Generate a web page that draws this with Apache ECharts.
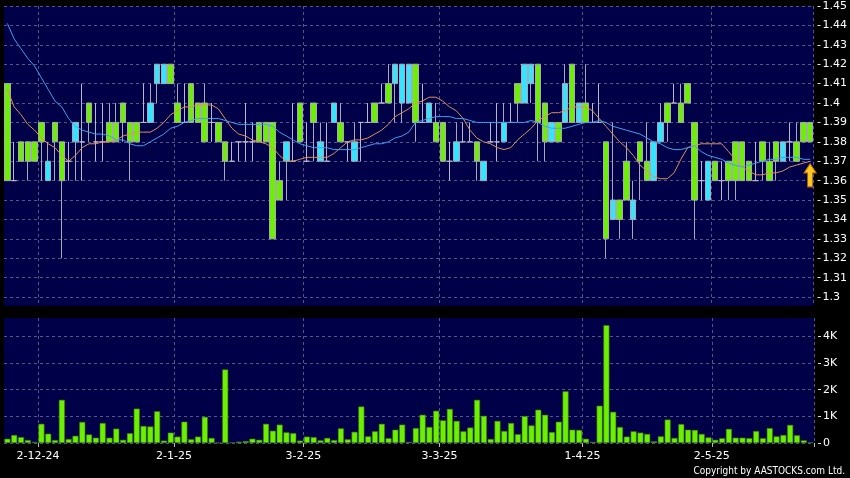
<!DOCTYPE html>
<html><head><meta charset="utf-8">
<script src="https://cdn.jsdelivr.net/npm/echarts@6.0.0/dist/echarts.min.js"></script>
<style>html,body{margin:0;padding:0;background:#000;}#c{width:850px;height:478px;}</style>
</head><body><div id="c"></div>
<script>
const dates = [
'25-11-24','26-11-24','27-11-24','28-11-24','29-11-24',
'2-12-24','3-12-24','4-12-24','5-12-24','6-12-24','9-12-24','10-12-24','11-12-24','12-12-24','13-12-24','16-12-24','17-12-24','18-12-24','19-12-24','20-12-24','23-12-24','24-12-24','27-12-24','30-12-24','31-12-24',
'2-1-25','3-1-25','6-1-25','7-1-25','8-1-25','9-1-25','10-1-25','13-1-25','14-1-25','15-1-25','16-1-25','17-1-25','20-1-25','21-1-25','22-1-25','23-1-25','24-1-25','27-1-25','28-1-25',
'3-2-25','4-2-25','5-2-25','6-2-25','7-2-25','10-2-25','11-2-25','12-2-25','13-2-25','14-2-25','17-2-25','18-2-25','19-2-25','20-2-25','21-2-25','24-2-25','25-2-25','26-2-25','27-2-25','28-2-25',
'3-3-25','4-3-25','5-3-25','6-3-25','7-3-25','10-3-25','11-3-25','12-3-25','13-3-25','14-3-25','17-3-25','18-3-25','19-3-25','20-3-25','21-3-25','24-3-25','25-3-25','26-3-25','27-3-25','28-3-25','31-3-25',
'1-4-25','2-4-25','3-4-25','7-4-25','8-4-25','9-4-25','10-4-25','11-4-25','14-4-25','15-4-25','16-4-25','17-4-25','22-4-25','23-4-25','24-4-25','25-4-25','28-4-25','29-4-25','30-4-25',
'2-5-25','6-5-25','7-5-25','8-5-25','9-5-25','12-5-25','13-5-25','14-5-25','15-5-25','16-5-25','19-5-25','20-5-25','21-5-25','22-5-25','23-5-25'
];
const opens = [
1.41,1.36,1.38,1.38,1.38,1.39,1.36,1.39,1.38,1.37,
1.38,1.38,1.40,1.38,1.38,1.39,1.39,1.40,1.39,1.39,
1.39,1.39,1.41,1.41,1.42,1.40,1.39,1.41,1.40,1.40,
1.39,1.39,1.38,1.37,1.38,1.38,1.38,1.39,1.39,1.39,
1.36,1.37,1.37,1.40,1.37,1.40,1.37,1.37,1.39,1.39,
1.38,1.37,1.39,1.39,1.40,1.40,1.41,1.41,1.40,1.40,
1.42,1.39,1.39,1.39,1.39,1.37,1.37,1.38,1.38,1.38,
1.36,1.38,1.38,1.38,1.39,1.41,1.40,1.41,1.42,1.40,
1.38,1.39,1.39,1.42,1.39,1.40,1.39,1.39,1.38,1.34,
1.35,1.37,1.34,1.38,1.37,1.36,1.38,1.40,1.40,1.40,
1.41,1.39,1.36,1.35,1.37,1.36,1.37,1.38,1.38,1.37,
1.36,1.38,1.37,1.38,1.37,1.38,1.38,1.39,1.39];
const closes = [
1.36,1.36,1.37,1.37,1.37,1.38,1.37,1.38,1.36,1.37,
1.39,1.38,1.39,1.38,1.38,1.38,1.38,1.39,1.38,1.38,
1.39,1.40,1.42,1.42,1.41,1.39,1.39,1.39,1.39,1.38,
1.39,1.38,1.37,1.37,1.38,1.38,1.38,1.38,1.38,1.33,
1.35,1.38,1.37,1.38,1.37,1.39,1.38,1.37,1.40,1.38,
1.38,1.38,1.39,1.39,1.39,1.40,1.40,1.42,1.42,1.42,
1.39,1.39,1.40,1.38,1.37,1.37,1.38,1.38,1.38,1.37,
1.37,1.38,1.38,1.39,1.39,1.40,1.42,1.42,1.39,1.38,
1.39,1.38,1.41,1.39,1.40,1.39,1.39,1.39,1.33,1.35,
1.34,1.35,1.35,1.37,1.36,1.38,1.39,1.39,1.40,1.39,
1.40,1.35,1.36,1.37,1.36,1.36,1.36,1.36,1.36,1.36,
1.36,1.37,1.36,1.37,1.38,1.38,1.37,1.38,1.38];
const lows = [
1.36,1.36,1.37,1.36,1.37,1.36,1.36,1.36,1.32,1.36,
1.36,1.36,1.38,1.37,1.37,1.38,1.38,1.38,1.36,1.38,
1.39,1.39,1.40,1.41,1.41,1.39,1.39,1.39,1.39,1.38,
1.38,1.38,1.36,1.37,1.37,1.37,1.37,1.38,1.38,1.33,
1.35,1.35,1.37,1.38,1.37,1.37,1.37,1.37,1.39,1.38,
1.37,1.37,1.37,1.39,1.39,1.40,1.40,1.39,1.39,1.40,
1.38,1.39,1.39,1.38,1.37,1.36,1.37,1.38,1.38,1.36,
1.36,1.38,1.37,1.38,1.39,1.39,1.40,1.40,1.37,1.37,
1.38,1.38,1.39,1.39,1.39,1.39,1.39,1.39,1.32,1.34,
1.33,1.35,1.33,1.35,1.36,1.36,1.38,1.38,1.40,1.39,
1.40,1.33,1.35,1.35,1.36,1.35,1.35,1.35,1.36,1.36,
1.36,1.36,1.36,1.36,1.37,1.37,1.37,1.38,1.38];
const highs = [
1.41,1.38,1.38,1.38,1.38,1.39,1.38,1.39,1.38,1.38,
1.39,1.41,1.40,1.40,1.40,1.40,1.40,1.40,1.39,1.39,
1.41,1.41,1.42,1.42,1.42,1.41,1.41,1.41,1.40,1.41,
1.40,1.39,1.38,1.38,1.38,1.40,1.39,1.39,1.39,1.39,
1.37,1.38,1.40,1.40,1.39,1.40,1.39,1.39,1.40,1.40,
1.38,1.39,1.39,1.40,1.40,1.41,1.42,1.42,1.42,1.42,
1.42,1.41,1.40,1.40,1.39,1.38,1.39,1.39,1.39,1.38,
1.37,1.39,1.40,1.40,1.40,1.41,1.42,1.42,1.42,1.40,
1.39,1.39,1.42,1.42,1.40,1.42,1.40,1.41,1.38,1.39,
1.35,1.38,1.36,1.38,1.39,1.38,1.40,1.40,1.41,1.41,
1.41,1.39,1.37,1.37,1.37,1.37,1.37,1.38,1.38,1.37,
1.38,1.38,1.38,1.38,1.38,1.39,1.39,1.39,1.39];
const volumesK = [
0.16,0.30,0.22,0.11,0.04,0.72,0.35,0.11,1.62,0.15,
0.27,0.79,0.32,0.20,0.75,0.20,0.54,0.12,0.37,1.29,
0.64,0.62,1.19,0.09,0.39,0.24,0.80,0.14,0.24,0.98,
0.19,0.01,2.76,0.02,0.05,0.07,0.16,0.12,0.72,0.46,
0.69,0.40,0.37,0.09,0.24,0.22,0.10,0.19,0.11,0.55,
0.14,0.42,1.37,0.25,0.44,0.72,0.18,0.50,0.69,0.04,
0.56,1.06,0.60,1.21,0.85,1.28,0.83,0.44,0.58,1.62,
1.02,0.15,0.83,0.45,0.75,0.33,1.01,0.66,1.25,1.06,
0.41,0.80,1.94,0.50,0.49,0.16,0.04,1.40,4.42,1.17,
0.60,0.24,0.44,0.39,0.34,0.06,0.25,0.88,0.19,0.71,
0.50,0.49,0.34,0.21,0.12,0.18,0.53,0.20,0.20,0.18,
0.45,0.18,0.56,0.25,0.30,0.68,0.29,0.10,0.02];
const ma10 = [
1.407,1.398,1.394,1.389,1.386,1.382,1.379,1.377,1.373,1.370,
1.373,1.377,1.379,1.379,1.380,1.380,1.381,1.383,1.384,1.385,
1.385,1.385,1.387,1.390,1.394,1.396,1.398,1.398,1.399,1.399,
1.399,1.397,1.392,1.387,1.384,1.383,1.381,1.380,1.379,1.377,
1.373,1.370,1.370,1.371,1.372,1.372,1.372,1.372,1.374,1.377,
1.380,1.381,1.381,1.382,1.384,1.386,1.389,1.393,1.395,1.397,
1.400,1.401,1.403,1.403,1.401,1.398,1.396,1.392,1.386,1.382,
1.380,1.379,1.377,1.376,1.377,1.381,1.384,1.387,1.391,1.393,
1.395,1.395,1.396,1.398,1.398,1.398,1.396,1.392,1.388,1.384,
1.380,1.377,1.373,1.368,1.365,1.362,1.361,1.361,1.364,1.371,
1.377,1.378,1.379,1.379,1.379,1.379,1.375,1.371,1.367,1.365,
1.363,1.363,1.364,1.364,1.365,1.367,1.368,1.369,1.370];
const ma20 = [
1.441,1.433,1.428,1.423,1.419,1.413,1.407,1.401,1.398,1.392,
1.388,1.386,1.385,1.384,1.384,1.383,1.381,1.381,1.379,1.378,
1.378,1.380,1.382,1.384,1.387,1.388,1.390,1.391,1.392,1.392,
1.392,1.392,1.391,1.390,1.389,1.389,1.389,1.389,1.389,1.388,
1.385,1.383,1.381,1.379,1.378,1.377,1.377,1.377,1.376,1.376,
1.376,1.376,1.377,1.378,1.379,1.379,1.380,1.382,1.383,1.385,
1.390,1.391,1.392,1.393,1.393,1.393,1.392,1.392,1.391,1.390,
1.390,1.390,1.390,1.390,1.390,1.390,1.390,1.391,1.390,1.388,
1.387,1.387,1.387,1.388,1.389,1.390,1.390,1.391,1.390,1.388,
1.387,1.386,1.385,1.384,1.382,1.380,1.379,1.377,1.376,1.376,
1.377,1.378,1.375,1.373,1.372,1.371,1.369,1.368,1.367,1.368,
1.369,1.370,1.371,1.371,1.372,1.372,1.372,1.371,1.371];
const priceTicks = [1.3,1.31,1.32,1.33,1.34,1.35,1.36,1.37,1.38,1.39,1.4,1.41,1.42,1.43,1.44,1.45];
const volumeTicks = [0,1,2,3,4];
const monthLabels = ['2-12-24','2-1-25','3-2-25','3-3-25','1-4-25','2-5-25'];

const labelSet = new Set(monthLabels);
const isMonth = (idx) => labelSet.has(dates[idx]);
const candleData = dates.map((d, i) => [opens[i], closes[i], lows[i], highs[i]]);
const lastDate = dates[dates.length - 1];

const GRID_LINE = { show: true, lineStyle: { color: '#55558a', type: [3, 3], width: 1 } };
const FONT = 'DejaVu Sans';
const chart = echarts.init(document.getElementById('c'), null, { renderer: 'canvas' });
chart.setOption({
  backgroundColor: '#000000',
  animation: false,
  grid: [
    { left: 4, right: 36, top: 6, height: 300, show: true, backgroundColor: '#000048', borderWidth: 0 },
    { left: 4, right: 36, top: 318, height: 125, show: true, backgroundColor: '#000048', borderWidth: 0 }
  ],
  xAxis: [
    { type: 'category', gridIndex: 0, data: dates, boundaryGap: true,
      axisLine: { show: false }, axisTick: { show: false }, axisLabel: { show: false },
      splitLine: Object.assign({ interval: isMonth }, GRID_LINE) },
    { type: 'category', gridIndex: 1, data: dates, boundaryGap: true,
      axisLine: { show: false },
      axisTick: { show: true, interval: isMonth, length: 4, lineStyle: { color: '#bbbbbb' } },
      axisLabel: { show: true, interval: isMonth, color: '#ffffff', fontFamily: FONT, fontSize: 11, margin: 8, padding: [0, 7, 0, 0] },
      splitLine: Object.assign({ interval: isMonth }, GRID_LINE) }
  ],
  yAxis: [
    { type: 'value', gridIndex: 0, position: 'right', min: 1.2954, max: 1.45, offset: 4,
      axisLine: { show: false },
      axisTick: { show: true, length: 3, customValues: priceTicks, lineStyle: { color: '#dddddd' } },
      axisLabel: { color: '#ffffff', fontFamily: FONT, fontSize: 11, margin: 5, customValues: priceTicks },
      splitLine: GRID_LINE },
    { type: 'value', gridIndex: 1, position: 'right', min: 0, max: 4.69, offset: 4,
      axisLine: { show: false },
      axisTick: { show: true, length: 3, customValues: volumeTicks, lineStyle: { color: '#dddddd' } },
      axisLabel: { color: '#ffffff', fontFamily: FONT, fontSize: 11, margin: 5, customValues: volumeTicks,
        formatter: (v) => v === 0 ? '0' : v + 'K' },
      splitLine: GRID_LINE }
  ],
  series: [
    { type: 'candlestick', xAxisIndex: 0, yAxisIndex: 0, data: candleData, barWidth: 6,
      itemStyle: { color: '#33E6FF', color0: '#6CF000', borderColor: '#a8a8b8', borderColor0: '#a8a8b8',
        borderColorDoji: '#b8b8c8', borderWidth: 1 },
      markPoint: {
        silent: true,
        data: [{ coord: [lastDate, 1.3628], symbol: 'path://M5,0 L10,8 L7,8 L7,20 L3,20 L3,8 L0,8 Z',
          symbolSize: [12, 23], itemStyle: { color: '#FFC81E', borderColor: '#C07800', borderWidth: 1 },
          label: { show: false } }]
      } },
    { type: 'line', xAxisIndex: 0, yAxisIndex: 0, data: ma10, symbol: 'none', smooth: false,
      lineStyle: { color: '#E0905A', width: 1 } },
    { type: 'line', xAxisIndex: 0, yAxisIndex: 0, data: ma20, symbol: 'none', smooth: false,
      lineStyle: { color: '#3CA4EC', width: 1 } },
    { type: 'bar', xAxisIndex: 1, yAxisIndex: 1, data: volumesK, barWidth: 6,
      itemStyle: { color: '#6CF000', borderColor: '#3a7a10', borderWidth: 0.6 } }
  ],
  graphic: [
    { type: 'text', right: 5, bottom: 2, style: { text: 'Copyright by AASTOCKS.com Ltd.', fill: '#ffffff',
      font: '10px "DejaVu Sans Condensed", "DejaVu Sans"' } }
  ]
});
</script></body></html>
